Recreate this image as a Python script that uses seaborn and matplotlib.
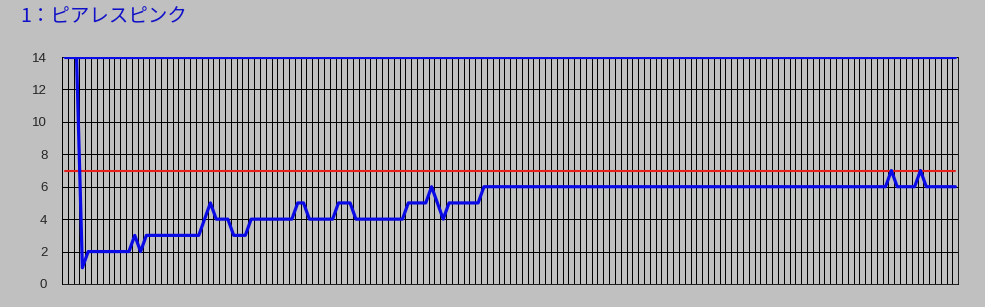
import numpy as np
import pandas as pd
import matplotlib
matplotlib.use("Agg")
import matplotlib.pyplot as plt
import seaborn as sns

# ---- data ----
title = "1：ピアレスピンク"
main_values = [
    14, 14, 14, 1, 2, 2, 2, 2, 2, 2,
    2, 2, 3, 2, 3, 3, 3, 3, 3, 3,
    3, 3, 3, 3, 4, 5, 4, 4, 4, 3,
    3, 3, 4, 4, 4, 4, 4, 4, 4, 4,
    5, 5, 4, 4, 4, 4, 4, 5, 5, 5,
    4, 4, 4, 4, 4, 4, 4, 4, 4, 5,
    5, 5, 5, 6, 5, 4, 5, 5, 5, 5,
    5, 5, 6, 6, 6, 6, 6, 6, 6, 6,
    6, 6, 6, 6, 6, 6, 6, 6, 6, 6,
    6, 6, 6, 6, 6, 6, 6, 6, 6, 6,
    6, 6, 6, 6, 6, 6, 6, 6, 6, 6,
    6, 6, 6, 6, 6, 6, 6, 6, 6, 6,
    6, 6, 6, 6, 6, 6, 6, 6, 6, 6,
    6, 6, 6, 6, 6, 6, 6, 6, 6, 6,
    6, 6, 7, 6, 6, 6, 6, 7, 6, 6,
    6, 6, 6, 6,
]
upper_values = [14] * len(main_values)
limit_values = [7] * len(main_values)
y_ticks = [0, 2, 4, 6, 8, 10, 12, 14]

n = len(main_values)
categories = np.arange(n)

sns.set_style("white", {"axes.facecolor": "#C0C0C0", "figure.facecolor": "#C0C0C0"})
plt.rcParams["font.family"] = ["Noto Sans CJK JP", "DejaVu Sans"]

fig = plt.figure(figsize=(9.85, 3.07), dpi=100)
fig.patch.set_facecolor("#C0C0C0")
ax = fig.add_axes([62 / 985, 23 / 307, 896.3 / 985, 227 / 307])
ax.set_facecolor("#C0C0C0")

df = pd.DataFrame({
    "x": categories + 0.5,
    "main": main_values,
    "upper": upper_values,
    "limit": limit_values,
})

# grid
for i in range(n + 1):
    ax.axvline(i, color="black", lw=0.6, antialiased=False, zorder=1)
for t in y_ticks:
    ax.axhline(t, color="black", lw=0.6, antialiased=False, zorder=1)

sns.lineplot(data=df, x="x", y="limit", ax=ax, color="#E8201C", lw=1.5, zorder=3)
sns.lineplot(data=df, x="x", y="upper", ax=ax, color="#0A0AE6", lw=2.3, zorder=4)
sns.lineplot(data=df, x="x", y="main", ax=ax, color="#0A0AE6", lw=2.3, zorder=5)

ax.set_xlim(0, n)
ax.set_ylim(0, 14)
ax.set_xticks([])
ax.set_yticks(y_ticks)
ax.set_yticklabels([str(t) for t in y_ticks], fontsize=9.5, family=["Liberation Sans", "DejaVu Sans"])
ax.tick_params(axis="y", direction="out", length=3.6, width=0.6, color="black", pad=7)
ax.set_xlabel("")
ax.set_ylabel("")
for side in ["left", "right", "bottom", "top"]:
    ax.spines[side].set_color("black")
    ax.spines[side].set_linewidth(0.6)
ax.spines["top"].set_visible(False)

fig.text(20 / 985, 1 - 17 / 307, title, color="#1010C8", fontsize=14,
         ha="left", va="center", family=["Noto Sans CJK JP", "DejaVu Sans"])

fig.savefig("out.png", dpi=100, facecolor="#C0C0C0")
